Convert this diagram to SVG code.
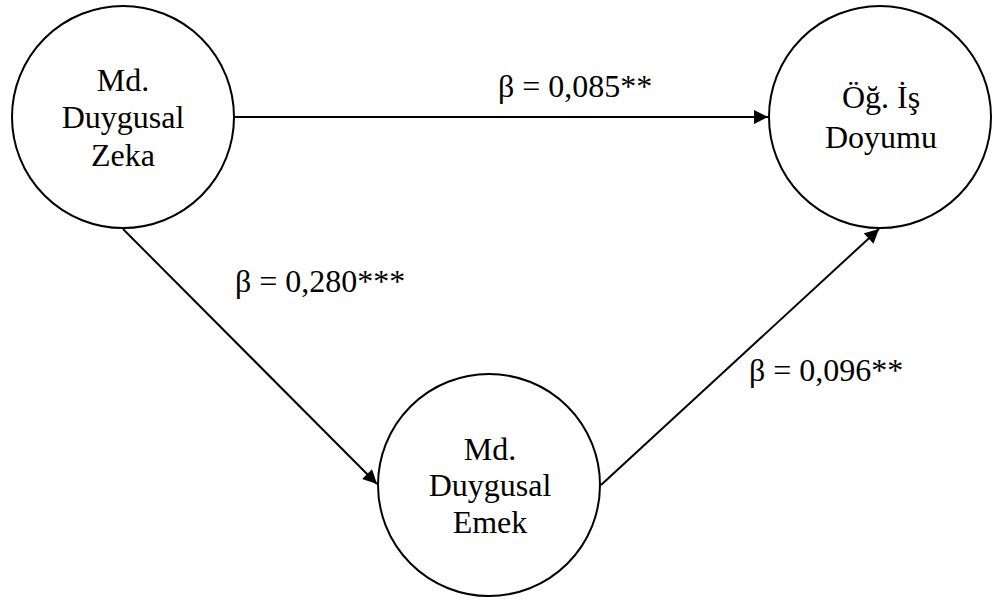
<svg xmlns="http://www.w3.org/2000/svg" width="992" height="601" viewBox="0 0 992 601" font-family="'Liberation Serif', 'Times New Roman', 'DejaVu Serif', serif">
  <style>
    .node circle { fill: #ffffff; stroke: #000000; stroke-width: 2; }
    text { font-family: 'Liberation Serif', 'Times New Roman', 'DejaVu Serif', serif; font-size: 32px; fill: #000000; }
    .node text { text-anchor: middle; }
    .edge { stroke: #000000; stroke-width: 2; fill: none; marker-end: url(#arrow); }
  </style>
  <defs>
    <marker id="arrow" viewBox="0 0 10 10" refX="10" refY="5" markerWidth="8" markerHeight="7" markerUnits="strokeWidth" orient="auto">
      <path d="M0,0 L10,5 L0,10 z" fill="#000000"/>
    </marker>
  </defs>

  <!-- connectors -->
  <g id="connectors">
    <line class="edge" x1="234" y1="117" x2="768" y2="117"/>
    <line class="edge" x1="123" y1="229" x2="377" y2="484"/>
    <line class="edge" x1="601" y1="485" x2="879" y2="229"/>
    <text class="label" x="498" y="97">β = 0,085**</text>
    <text class="label" x="235" y="292">β = 0,280***</text>
    <text class="label" x="749" y="381">β = 0,096**</text>
  </g>

  <!-- nodes -->
  <g id="node-zeka" class="node">
    <circle cx="123" cy="117" r="111"/>
    <text x="123" y="91">Md.</text>
    <text x="123" y="128">Duygusal</text>
    <text x="123" y="166">Zeka</text>
  </g>
  <g id="node-doyum" class="node">
    <circle cx="880" cy="117" r="111"/>
    <text x="881" y="108">Öğ. İş</text>
    <text x="881" y="148">Doyumu</text>
  </g>
  <g id="node-emek" class="node">
    <circle cx="489" cy="485" r="111"/>
    <text x="490" y="460">Md.</text>
    <text x="490" y="496">Duygusal</text>
    <text x="490" y="533">Emek</text>
  </g>
</svg>
